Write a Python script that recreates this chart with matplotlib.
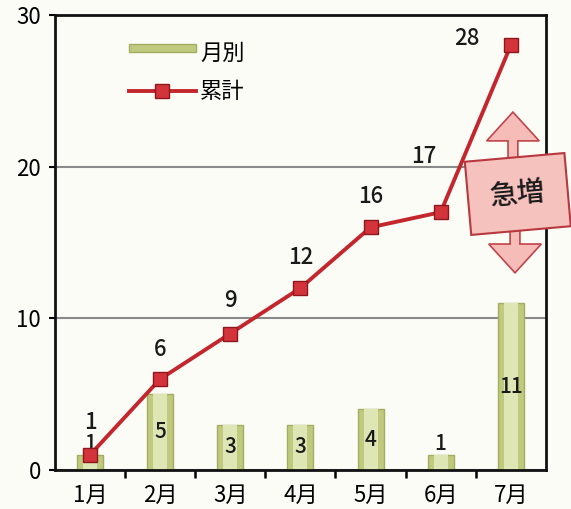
import matplotlib
matplotlib.use("Agg")
import matplotlib.pyplot as plt
from matplotlib.patches import FancyArrow, Rectangle
from matplotlib.legend_handler import HandlerPatch

plt.rcParams["font.family"] = ["Noto Sans CJK JP", "DejaVu Sans"]

months = ["1月", "2月", "3月", "4月", "5月", "6月", "7月"]
monthly = [1, 5, 3, 3, 4, 1, 11]
cumulative = [1, 6, 9, 12, 16, 17, 28]
# label offsets (points) for the cumulative values
cum_offsets = [(0, 23), (0, 21), (0, 24), (0, 22), (0, 22), (-12, 40), (-32, 5)]

BG = "#fcfcf7"
LINE = "#c4262e"


def flat_bar(legend, orig_handle, xdescent, ydescent, width, height, fontsize):
    # thin bar swatch like in the original legend
    return Rectangle((-xdescent, height * 0.5 - ydescent), width, height * 0.5)


fig = plt.figure(figsize=(5.71, 5.09), dpi=100, facecolor=BG)
ax = fig.add_axes([0.0963, 0.0766, 0.8597, 0.8939], facecolor=BG)

x = list(range(len(months)))
ax.set_xlim(-0.5, 6.5)
ax.set_ylim(0, 30)

ax.yaxis.grid(True, color="#8a8a8a", lw=1.5)
ax.set_axisbelow(True)

bars = ax.bar(x, monthly, width=0.37, color="#bfca7e", edgecolor="#a3ae62",
              lw=1.0, label="月別", zorder=2)
ax.bar(x, monthly, width=0.2, color="#dfe6b6", edgecolor="none", zorder=2.5)

for b, v in zip(bars, monthly):
    cx = b.get_x() + b.get_width() / 2
    if v >= 3:
        ax.text(cx, v / 2, str(v), ha="center", va="center", fontsize=15,
                fontweight="medium", color="#1a1a1a", zorder=3)
    else:
        ax.text(cx, v, str(v), ha="center", va="bottom", fontsize=15,
                fontweight="medium", color="#1a1a1a", zorder=3)

line, = ax.plot(x, cumulative, color=LINE, lw=2.8, marker="s", markersize=10,
                markerfacecolor="#d3343b", markeredgecolor="#8e161c",
                markeredgewidth=1, label="累計", zorder=4)

for xi, v, off in zip(x, cumulative, cum_offsets):
    ax.annotate(str(v), (xi, v), xytext=off, textcoords="offset points",
                ha="center", va="center", fontsize=16, fontweight="medium",
                color="#1a1a1a", zorder=5)

# "急増" callout: double arrow with a tilted box
arr_kw = dict(width=0.14, head_width=0.75, head_length=1.9,
              length_includes_head=True, fc="#f6bdb8", ec="#c0444a",
              lw=1.2, clip_on=False, zorder=6)
ax.add_patch(FancyArrow(6.03, 18.5, 0, 23.6 - 18.5, **arr_kw))
ax.add_patch(FancyArrow(6.06, 17.5, 0, 13.0 - 17.5, **arr_kw))
ax.text(6.1, 18.2, "急増", ha="center", va="center", fontsize=20, rotation=5,
        fontweight="medium", color="#1a1a1a", zorder=7, clip_on=False,
        bbox=dict(boxstyle="square,pad=0.8", fc="#f6c2bd", ec="#b8383f", lw=1.5))

ax.set_xticks(x)
ax.set_xticklabels(months, fontsize=16)
ax.set_xticks([0.5, 1.5, 2.5, 3.5, 4.5, 5.5], minor=True)
ax.tick_params(axis="x", which="major", length=0, pad=10)
ax.tick_params(axis="x", which="minor", length=6, width=1.8, direction="out")
ax.set_yticks([0, 10, 20, 30])
ax.tick_params(axis="y", labelsize=16, length=4, width=1.5, pad=6)

for s in ax.spines.values():
    s.set_linewidth(2)
    s.set_color("#111111")

ax.legend([bars[0], line], ["月別", "累計"], loc="upper left",
          bbox_to_anchor=(0.11, 0.985), frameon=False, fontsize=16,
          handlelength=3.0, handletextpad=0.2, labelspacing=0.7,
          handler_map={bars[0]: HandlerPatch(patch_func=flat_bar)})

fig.savefig("out.png", dpi=100, facecolor=BG)
